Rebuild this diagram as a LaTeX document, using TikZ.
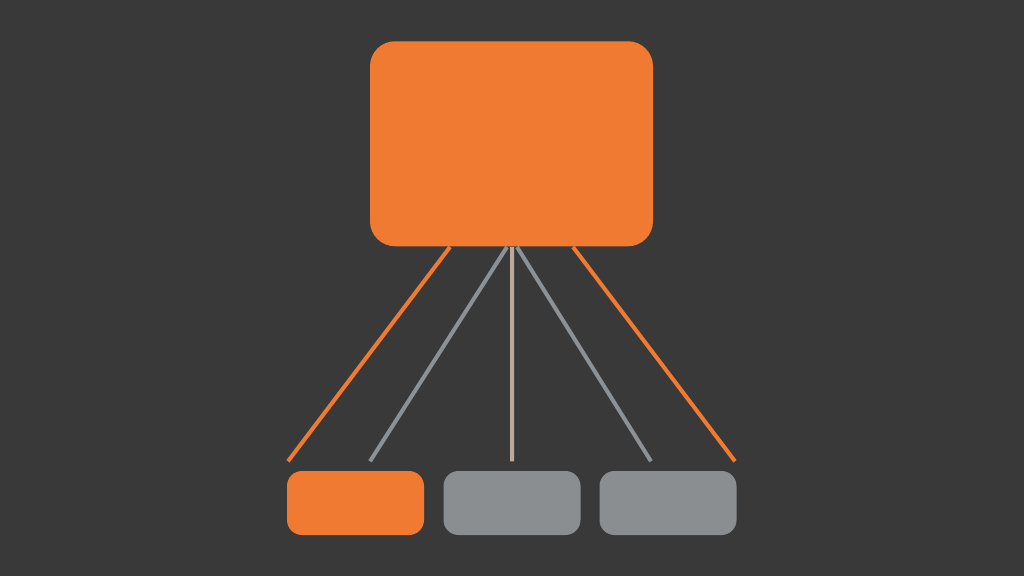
\documentclass[tikz,border=0pt]{standalone}
\definecolor{bgdark}{RGB}{57,57,57}
\definecolor{boxorange}{RGB}{240,122,50}
\definecolor{boxgray}{RGB}{138,142,145}
\definecolor{linegray}{RGB}{140,145,150}
\definecolor{linetan}{RGB}{186,170,158}
\tikzset{
  topbox/.style={rectangle, rounded corners=0.25cm, inner sep=0pt, fill=boxorange, minimum width=2.83cm, minimum height=2.05cm},
  leafbox/.style={rectangle, rounded corners=0.15cm, inner sep=0pt, minimum width=1.37cm, minimum height=0.64cm},
  link/.style={line width=0.04cm}
}
\begin{document}
\begin{tikzpicture}
% Background
\fill[bgdark] (0,0) rectangle (10.24,5.76);
\useasboundingbox (0,0) rectangle (10.24,5.76);

% Root
\node[topbox] (root) at (5.115,4.3225) {};

% Leaves
\node[leafbox, fill=boxorange] (leaf1) at (3.555,0.73) {};
\node[leafbox, fill=boxgray] (leaf2) at (5.12,0.73) {};
\node[leafbox, fill=boxgray] (leaf3) at (6.68,0.73) {};

% Link ends
\coordinate (s1) at ([xshift=-0.615cm]root.south);
\coordinate (s2) at ([xshift=-0.045cm]root.south);
\coordinate (s3) at ([xshift=0.005cm]root.south);
\coordinate (s4) at ([xshift=0.055cm]root.south);
\coordinate (s5) at ([xshift=0.615cm]root.south);
\coordinate (e1) at ([xshift=-0.675cm, yshift=0.09cm]leaf1.north);
\coordinate (e2) at ([xshift=0.145cm, yshift=0.09cm]leaf1.north);
\coordinate (e3) at ([yshift=0.09cm]leaf2.north);
\coordinate (e4) at ([xshift=-0.17cm, yshift=0.09cm]leaf3.north);
\coordinate (e5) at ([xshift=0.67cm, yshift=0.09cm]leaf3.north);

\draw[link, boxorange] (s1) -- (e1);
\draw[link, linegray] (s2) -- (e2);
\draw[link, linetan] (s3) -- (e3);
\draw[link, linegray] (s4) -- (e4);
\draw[link, boxorange] (s5) -- (e5);
\end{tikzpicture}
\end{document}
